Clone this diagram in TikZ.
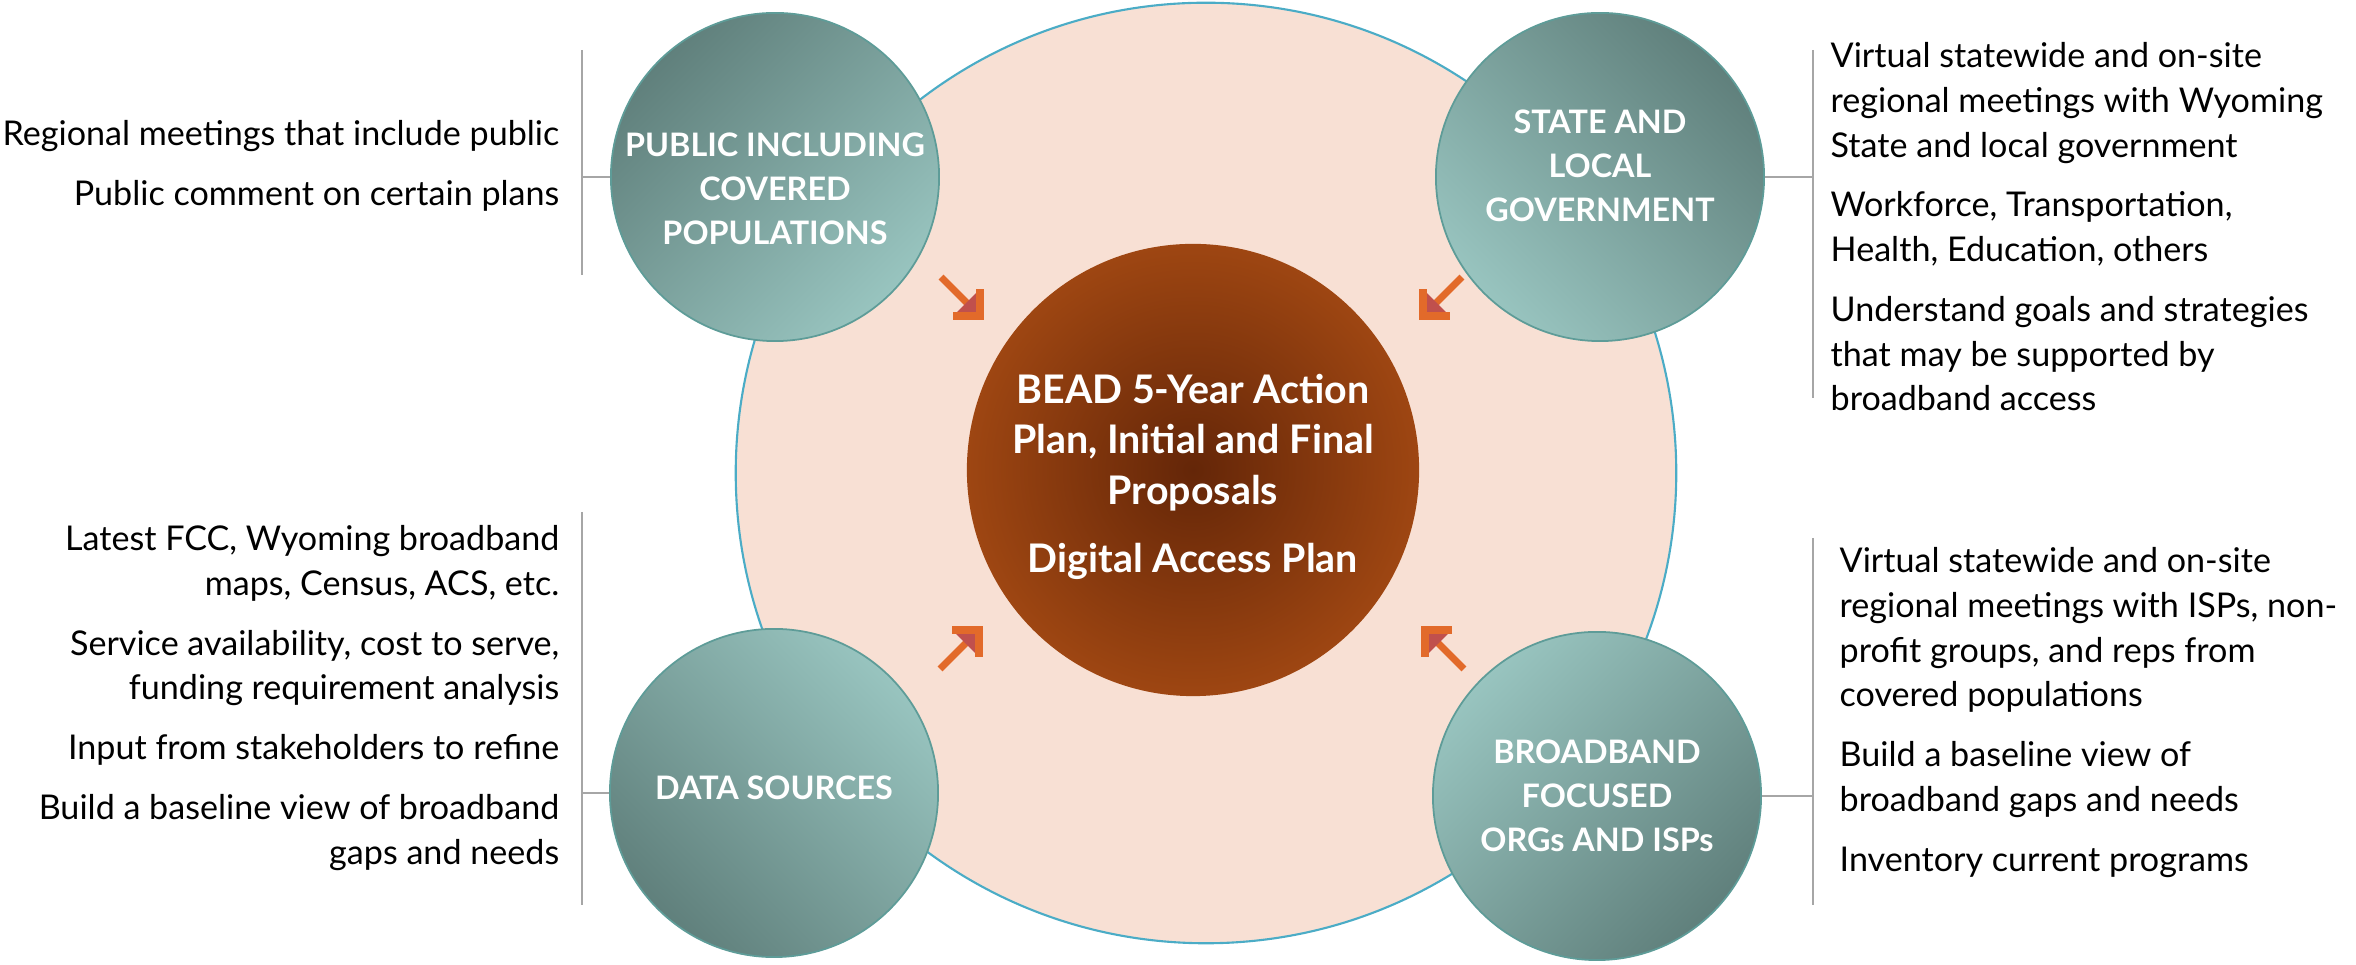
\documentclass[tikz,border=0pt]{standalone}
\usepackage{fontspec}
\setmainfont{Lato}

\definecolor{peach}{RGB}{248,224,212}
\definecolor{ringblue}{RGB}{75,172,198}
\definecolor{brownin}{RGB}{100,38,8}
\definecolor{brownout}{RGB}{158,70,18}
\definecolor{tealdark}{RGB}{96,128,124}
\definecolor{teallight}{RGB}{152,196,191}
\definecolor{tealedge}{RGB}{94,156,152}
\definecolor{arroworange}{RGB}{226,106,42}
\definecolor{arrowred}{RGB}{192,80,77}
\definecolor{bargray}{RGB}{166,166,166}

\begin{document}
\begin{tikzpicture}[
    x=0.01cm, y=-0.01cm,
    ring/.style={
        circle,
        draw=ringblue,
        line width=0.6pt,
        fill=peach,
        minimum size=9.4cm
    },
    core/.style={
        circle,
        inner sep=0pt,
        minimum size=4.52cm,
        inner color=brownin,
        outer color=brownout
    },
    coretext/.style={
        inner sep=0pt,
        text=white,
        align=center,
        font=\fontsize{11.2pt}{14.4pt}\selectfont\bfseries
    },
    group/.style={
        circle,
        inner sep=0pt,
        minimum size=3.28cm,
        draw=tealedge,
        line width=0.5pt,
        top color=tealdark,
        bottom color=teallight,
        shading angle=#1
    },
    grouptext/.style={
        inner sep=0pt,
        text=white,
        align=center,
        font=\fontsize{9.2pt}{12.6pt}\selectfont\bfseries
    },
    notes/.style={
        inner sep=0pt,
        font=\fontsize{9.7pt}{12.7pt}\selectfont
    },
    bracket/.style={
        draw=bargray,
        line width=0.6pt
    },
    inarrow/.pic={
        \draw[arroworange, line width=2pt] (-55,0) -- (-12,0);
        \fill[arrowred] (0,0) -- (-19,19) -- (-19,-19) -- cycle;
        \draw[arroworange, line width=2pt] (-19,19) -- (0,0) -- (-19,-19);
    }
]
\useasboundingbox (0,0) rectangle (2356,965);

% Outer ring
\node[ring] (ring) at (1206,473) {};

% Centre
\node[core] (plan) at (1193,470) {};
\node[coretext] (plan-title) at ([yshift=-0.07cm]plan.center) {BEAD 5-Year Action\\Plan, Initial and Final\\Proposals\\[5pt]Digital Access Plan};

% Groups
\node[group=45] (public) at (775,177) {};
\node[group=-45] (gov) at (1600,177) {};
\node[group=135] (data) at (774,793) {};
\node[group=225] (isp) at (1597,796) {};
\node[grouptext] (public-title) at ([yshift=-0.12cm]public.center) {PUBLIC INCLUDING\\COVERED\\POPULATIONS};
\node[grouptext] (gov-title) at ([yshift=0.11cm]gov.center) {STATE AND\\LOCAL\\GOVERNMENT};
\node[grouptext] (data-title) at ([yshift=0.05cm]data.center) {DATA SOURCES};
\node[grouptext] (isp-title) at (isp.center) {BROADBAND\\FOCUSED\\ORGs AND ISPs};

% Arrows into the centre
\coordinate (tip-public) at (980,316);
\coordinate (tip-gov) at (1423,316);
\coordinate (tip-data) at (979,630);
\coordinate (tip-isp) at (1425,630);
\pic[rotate=-45] at (tip-public) {inarrow};
\pic[rotate=-135] at (tip-gov) {inarrow};
\pic[rotate=45] at (tip-data) {inarrow};
\pic[rotate=135] at (tip-isp) {inarrow};

% Brackets
\coordinate (bar-lt) at (582,50);
\coordinate (bar-lb) at (582,512);
\coordinate (bar-rt) at (1813,50);
\coordinate (bar-rb) at (1813,538);
\draw[bracket] (bar-lt) -- ++(0,225);
\draw[bracket] (bar-lb) -- ++(0,393);
\draw[bracket] (bar-rt) -- ++(0,348);
\draw[bracket] (bar-rb) -- ++(0,367);
\draw[bracket] (public.west) -- (public.west -| bar-lt);
\draw[bracket] (data.west) -- (data.west -| bar-lb);
\draw[bracket] (gov.east) -- (gov.east -| bar-rt);
\draw[bracket] (isp.east) -- (isp.east -| bar-rb);

% Notes
\node[notes, align=right, anchor=north east] (public-notes) at (560,120) {
    Regional meetings that include public\\[4.3pt]
    Public comment on certain plans};
\node[notes, align=right, anchor=north east] (data-notes) at (560,525) {
    Latest FCC, Wyoming broadband\\
    maps, Census, ACS, etc.\\[4.3pt]
    Service availability, cost to serve,\\
    funding requirement analysis\\[4.3pt]
    Input from stakeholders to refine\\[4.3pt]
    Build a baseline view of broadband\\
    gaps and needs};
\node[notes, align=left, anchor=north west] (gov-notes) at (1830,42) {
    Virtual statewide and on-site\\
    regional meetings with Wyoming\\
    State and local government\\[4.3pt]
    Workforce, Transportation,\\
    Health, Education, others\\[4.3pt]
    Understand goals and strategies\\
    that may be supported by\\
    broadband access};
\node[notes, align=left, anchor=north west] (isp-notes) at (1839,547) {
    Virtual statewide and on-site\\
    regional meetings with ISPs, non-\\
    profit groups, and reps from\\
    covered populations\\[4.3pt]
    Build a baseline view of\\
    broadband gaps and needs\\[4.3pt]
    Inventory current programs};

\end{tikzpicture}
\end{document}
